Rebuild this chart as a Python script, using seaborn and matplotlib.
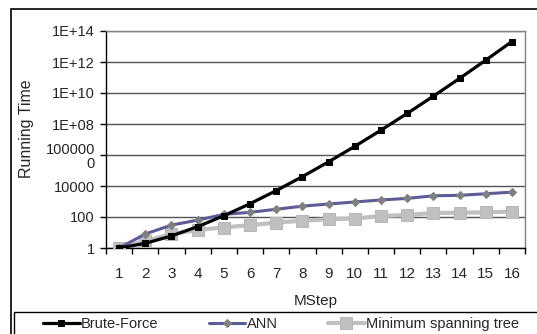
import numpy as np
import pandas as pd
import matplotlib
matplotlib.use("Agg")
import matplotlib.pyplot as plt
from matplotlib.patches import Rectangle
from matplotlib.ticker import FixedLocator, NullFormatter
import seaborn as sns

# Data (log scale y)
msteps = list(range(1, 17))
brute_force = [1, 2, 6, 24, 120, 720, 5040, 40320, 362880, 3.6e6, 4.0e7,
               4.8e8, 6.2e9, 8.7e10, 1.3e12, 2.1e13]
ann = [1, 8, 30, 63, 148, 200, 316, 500, 690, 930, 1260, 1580, 2340, 2500, 3160, 4000]
mst = [1, 2.8, 8, 14.5, 21, 30, 43, 58, 71, 80, 115, 135, 182, 190, 200, 224]

y_ticks = [1e0, 1e2, 1e4, 1e6, 1e8, 1e10, 1e12, 1e14]
y_labels = ["1", "100", "10000", "100000\n0", "1E+08", "1E+10", "1E+12", "1E+14"]

sns.set_style("white")
plt.rcParams['font.family'] = ['Liberation Sans', 'DejaVu Sans']

W, H = 537, 334
fig = plt.figure(figsize=(W / 100, H / 100), dpi=100)
ax = fig.add_axes([106 / W, 1 - 248 / H, (525 - 106) / W, (248 - 31) / H])

df = pd.DataFrame({"MStep": msteps, "Brute-Force": brute_force,
                   "ANN": ann, "Minimum spanning tree": mst})

sns.lineplot(data=df, x="MStep", y="Minimum spanning tree", ax=ax, color="#c0c0c0",
             linewidth=3, marker="s", markersize=9, markeredgecolor="#b8b8b8",
             markerfacecolor="#c0c0c0", label="Minimum spanning tree", legend=False, zorder=3)
sns.lineplot(data=df, x="MStep", y="ANN", ax=ax, color="#5c5c98", linewidth=2.2,
             marker="D", markersize=4.5, markeredgecolor="#808080",
             markerfacecolor="#808080", label="ANN", legend=False, zorder=4)
sns.lineplot(data=df, x="MStep", y="Brute-Force", ax=ax, color="black", linewidth=2.3,
             marker="s", markersize=5, markeredgecolor="black",
             markerfacecolor="black", label="Brute-Force", legend=False, zorder=5)

ax.set_yscale("log")
ax.set_ylim(1, 1e14)
ax.set_xlim(0.5, 16.5)
ax.yaxis.set_major_locator(FixedLocator(y_ticks))
ax.set_yticklabels(y_labels)
ax.yaxis.set_minor_locator(FixedLocator([]))
ax.yaxis.set_minor_formatter(NullFormatter())
for lbl in ax.get_yticklabels():
    if "\n" in lbl.get_text():
        lbl.set_linespacing(1.0)
        lbl.set_va("center_baseline")
ax.set_xticks(msteps)
ax.set_xticklabels([str(m) for m in msteps])
ax.set_xticks(np.arange(0.5, 17, 1), minor=True)

ax.tick_params(axis="x", which="major", length=0, pad=14, labelsize=11)
ax.tick_params(axis="x", which="minor", length=4, width=1, color="black", direction="out", bottom=True)
ax.tick_params(axis="y", which="major", length=4, width=1, color="black", direction="out",
               left=True, pad=4, labelsize=10.5)

ax.grid(True, axis="y", color="#555555", linewidth=1)
ax.set_axisbelow(True)
for side in ["top", "right"]:
    ax.spines[side].set_color("#808080")
    ax.spines[side].set_linewidth(1)
for side in ["left", "bottom"]:
    ax.spines[side].set_color("black")
    ax.spines[side].set_linewidth(1)

ax.set_xlabel("MStep", fontsize=11, labelpad=9)
ax.set_ylabel("Running Time", fontsize=11.5)
ax.yaxis.set_label_coords(-0.172, 0.55)

# outer chart border
fig.patches.append(Rectangle((11 / W, -0.1), 0.99, 1.1 - 9 / H,
                             transform=fig.transFigure, fill=False,
                             edgecolor="black", linewidth=1.2))
# legend box
fig.patches.append(Rectangle((14 / W, -0.1), 0.99, 0.1 + 1 - 312 / H,
                             transform=fig.transFigure, fill=False,
                             edgecolor="black", linewidth=1))

handles, labels = ax.get_legend_handles_labels()
order = [labels.index(n) for n in ["Brute-Force", "ANN", "Minimum spanning tree"]]
leg = fig.legend([handles[i] for i in order], [labels[i] for i in order],
                 loc="upper left", bbox_to_anchor=(38 / W, 1 - 312 / H), ncol=3,
                 fontsize=10.5, handlelength=2.5, columnspacing=3.45, handletextpad=0.1,
                 frameon=False, borderpad=0.35, borderaxespad=0)

fig.savefig("out.png", dpi=100)
